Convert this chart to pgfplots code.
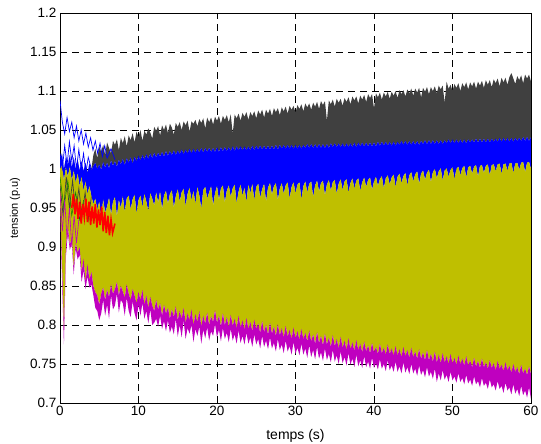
\documentclass[border=0pt]{standalone}
\usepackage{fontspec}
\setmainfont{Liberation Sans}
\usepackage{pgfplots}
\pgfplotsset{compat=1.18}
\usepackage{pgfplotstable}
\usepgfplotslibrary{fillbetween}
\definecolor{mgray}{RGB}{64,64,64}
\definecolor{mblue}{RGB}{0,0,255}
\definecolor{myel}{RGB}{191,191,0}
\definecolor{mmag}{RGB}{191,0,191}
\definecolor{mred}{RGB}{255,0,0}
\definecolor{mgreen}{RGB}{0,128,0}
\pgfplotstableread{
t gt bt yt yb mb
0.00 1.010 1.010 1.000 0.960 0.955
0.25 1.020 1.020 1.005 0.880 0.862
0.50 1.000 1.000 0.985 0.792 0.775
0.75 1.015 1.015 1.002 0.900 0.888
1.00 1.005 1.005 0.990 0.925 0.918
1.25 1.018 1.018 1.003 0.903 0.896
1.50 1.002 1.002 0.985 0.912 0.905
1.75 1.015 1.015 0.998 0.872 0.865
2.00 1.000 1.000 0.982 0.905 0.898
2.25 1.012 1.012 0.994 0.893 0.884
2.50 0.998 0.998 0.978 0.900 0.890
2.75 1.010 1.010 0.990 0.868 0.855
3.00 0.997 0.997 0.972 0.885 0.870
3.25 1.008 1.008 0.984 0.855 0.846
3.50 0.995 0.995 0.968 0.878 0.862
3.75 1.007 1.007 0.978 0.858 0.848
4.00 1.000 0.998 0.965 0.868 0.852
4.25 1.018 1.004 0.955 0.850 0.838
4.50 1.026 1.008 0.962 0.842 0.822
4.75 1.014 1.000 0.948 0.838 0.818
5.00 1.029 1.006 0.958 0.826 0.806
5.25 1.022 0.999 0.936 0.840 0.815
5.50 1.031 1.009 0.961 0.848 0.832
5.75 1.018 1.002 0.944 0.832 0.812
6.00 1.034 1.008 0.952 0.845 0.826
6.25 1.027 1.001 0.963 0.836 0.808
6.50 1.020 1.011 0.941 0.852 0.838
6.75 1.036 1.004 0.958 0.840 0.820
7.00 1.031 1.010 0.964 0.846 0.825
7.25 1.038 1.003 0.939 0.855 0.840
7.50 1.024 1.012 0.960 0.838 0.816
7.75 1.040 1.006 0.950 0.850 0.832
8.00 1.033 1.013 0.965 0.843 0.828
8.25 1.042 1.005 0.945 0.835 0.812
8.50 1.029 1.014 0.962 0.852 0.835
8.75 1.043 1.008 0.966 0.840 0.818
9.00 1.037 1.015 0.948 0.832 0.810
9.25 1.046 1.007 0.961 0.846 0.830
9.50 1.034 1.016 0.967 0.838 0.815
9.75 1.048 1.010 0.943 0.828 0.806
10.00 1.041 1.017 0.960 0.842 0.826
10.25 1.050 1.011 0.966 0.832 0.812
10.50 1.036 1.018 0.951 0.845 0.828
10.75 1.049 1.012 0.968 0.826 0.808
11.00 1.044 1.019 0.958 0.838 0.818
11.25 1.052 1.013 0.946 0.822 0.802
11.50 1.047 1.020 0.969 0.836 0.820
11.75 1.039 1.014 0.962 0.825 0.800
12.00 1.054 1.021 0.953 0.818 0.803
12.25 1.049 1.015 0.970 0.832 0.808
12.50 1.055 1.021 0.957 0.820 0.798
12.75 1.043 1.016 0.971 0.828 0.812
13.00 1.056 1.022 0.948 0.812 0.795
13.25 1.050 1.016 0.966 0.826 0.805
13.50 1.057 1.023 0.972 0.815 0.792
13.75 1.046 1.017 0.955 0.822 0.806
14.00 1.058 1.023 0.968 0.808 0.790
14.25 1.053 1.018 0.973 0.820 0.798
14.50 1.044 1.024 0.950 0.810 0.788
14.75 1.059 1.018 0.965 0.824 0.808
15.00 1.054 1.024 0.974 0.806 0.785
15.25 1.060 1.019 0.958 0.818 0.800
15.50 1.050 1.025 0.970 0.808 0.784
15.75 1.061 1.019 0.975 0.822 0.806
16.00 1.056 1.025 0.952 0.803 0.782
16.25 1.062 1.020 0.968 0.815 0.796
16.50 1.048 1.026 0.976 0.806 0.789
16.75 1.061 1.020 0.960 0.820 0.800
17.00 1.058 1.026 0.972 0.800 0.778
17.25 1.063 1.021 0.955 0.814 0.795
17.50 1.055 1.026 0.977 0.804 0.786
17.75 1.064 1.021 0.966 0.818 0.798
18.00 1.059 1.027 0.949 0.798 0.776
18.25 1.065 1.021 0.973 0.812 0.794
18.50 1.052 1.027 0.977 0.802 0.783
18.75 1.066 1.022 0.962 0.816 0.797
19.00 1.060 1.027 0.970 0.800 0.780
19.25 1.066 1.022 0.978 0.811 0.792
19.50 1.057 1.027 0.953 0.804 0.786
19.75 1.067 1.022 0.969 0.819 0.801
20.00 1.062 1.028 0.978 0.803 0.784
20.25 1.068 1.022 0.960 0.812 0.794
20.50 1.058 1.028 0.975 0.798 0.779
20.75 1.068 1.023 0.979 0.815 0.796
21.00 1.063 1.028 0.957 0.800 0.782
21.25 1.069 1.023 0.972 0.810 0.790
21.50 1.060 1.028 0.979 0.797 0.778
21.75 1.070 1.023 0.964 0.813 0.795
22.00 1.045 1.029 0.975 0.799 0.780
22.25 1.070 1.023 0.980 0.808 0.788
22.50 1.065 1.029 0.956 0.796 0.776
22.75 1.071 1.024 0.971 0.812 0.793
23.00 1.062 1.029 0.980 0.797 0.777
23.25 1.072 1.024 0.966 0.806 0.786
23.50 1.067 1.029 0.976 0.794 0.775
23.75 1.073 1.024 0.958 0.809 0.790
24.00 1.063 1.029 0.980 0.795 0.776
24.25 1.073 1.024 0.969 0.804 0.784
24.50 1.068 1.030 0.981 0.792 0.772
24.75 1.074 1.024 0.960 0.807 0.788
25.00 1.065 1.030 0.977 0.795 0.775
25.25 1.075 1.025 0.981 0.802 0.782
25.50 1.070 1.030 0.963 0.790 0.770
25.75 1.076 1.025 0.974 0.805 0.786
26.00 1.066 1.030 0.981 0.791 0.772
26.25 1.076 1.025 0.958 0.800 0.780
26.50 1.071 1.030 0.976 0.788 0.769
26.75 1.077 1.025 0.982 0.803 0.784
27.00 1.068 1.030 0.967 0.789 0.770
27.25 1.078 1.025 0.978 0.798 0.777
27.50 1.073 1.031 0.982 0.786 0.766
27.75 1.078 1.025 0.960 0.801 0.782
28.00 1.069 1.031 0.975 0.787 0.768
28.25 1.079 1.026 0.982 0.796 0.775
28.50 1.074 1.031 0.968 0.784 0.764
28.75 1.080 1.026 0.979 0.799 0.780
29.00 1.071 1.031 0.983 0.785 0.766
29.25 1.081 1.026 0.962 0.794 0.773
29.50 1.076 1.031 0.977 0.782 0.762
29.75 1.081 1.026 0.983 0.797 0.778
30.00 1.072 1.031 0.969 0.783 0.763
30.25 1.082 1.026 0.980 0.792 0.771
30.50 1.077 1.031 0.983 0.781 0.761
30.75 1.083 1.026 0.961 0.795 0.776
31.00 1.074 1.031 0.978 0.782 0.762
31.25 1.084 1.027 0.984 0.790 0.770
31.50 1.079 1.032 0.970 0.779 0.758
31.75 1.084 1.027 0.981 0.793 0.774
32.00 1.076 1.032 0.984 0.779 0.759
32.25 1.085 1.027 0.964 0.788 0.768
32.50 1.080 1.032 0.979 0.776 0.756
32.75 1.086 1.027 0.985 0.791 0.772
33.00 1.077 1.032 0.971 0.777 0.757
33.25 1.087 1.027 0.982 0.786 0.765
33.50 1.082 1.032 0.985 0.774 0.754
33.75 1.087 1.027 0.966 0.789 0.770
34.00 1.062 1.032 0.980 0.775 0.755
34.25 1.088 1.027 0.986 0.784 0.763
34.50 1.083 1.033 0.972 0.772 0.752
34.75 1.089 1.028 0.983 0.787 0.768
35.00 1.080 1.033 0.986 0.773 0.753
35.25 1.090 1.028 0.968 0.782 0.761
35.50 1.085 1.033 0.981 0.770 0.750
35.75 1.090 1.028 0.987 0.785 0.766
36.00 1.081 1.033 0.973 0.771 0.751
36.25 1.091 1.028 0.984 0.780 0.759
36.50 1.086 1.033 0.987 0.768 0.748
36.75 1.092 1.028 0.970 0.783 0.764
37.00 1.083 1.033 0.982 0.769 0.749
37.25 1.093 1.028 0.988 0.778 0.757
37.50 1.088 1.034 0.975 0.767 0.746
37.75 1.093 1.028 0.985 0.781 0.762
38.00 1.084 1.034 0.988 0.768 0.747
38.25 1.094 1.029 0.972 0.776 0.755
38.50 1.089 1.034 0.983 0.765 0.745
38.75 1.095 1.029 0.989 0.779 0.760
39.00 1.086 1.034 0.977 0.766 0.746
39.25 1.096 1.029 0.986 0.774 0.753
39.50 1.091 1.034 0.989 0.764 0.744
39.75 1.096 1.029 0.973 0.777 0.758
40.00 1.078 1.034 0.984 0.765 0.745
40.25 1.097 1.029 0.990 0.772 0.751
40.50 1.092 1.035 0.978 0.763 0.743
40.75 1.098 1.030 0.987 0.776 0.756
41.00 1.089 1.035 0.991 0.764 0.744
41.25 1.098 1.030 0.975 0.771 0.750
41.50 1.093 1.035 0.988 0.762 0.741
41.75 1.099 1.030 0.992 0.775 0.755
42.00 1.090 1.035 0.980 0.763 0.742
42.25 1.099 1.030 0.989 0.770 0.748
42.50 1.094 1.035 0.993 0.761 0.740
42.75 1.100 1.030 0.977 0.773 0.753
43.00 1.091 1.035 0.990 0.761 0.740
43.25 1.101 1.031 0.994 0.769 0.747
43.50 1.096 1.036 0.982 0.759 0.738
43.75 1.101 1.031 0.991 0.772 0.752
44.00 1.093 1.036 0.995 0.760 0.739
44.25 1.102 1.031 0.979 0.768 0.746
44.50 1.097 1.036 0.992 0.758 0.737
44.75 1.103 1.031 0.996 0.771 0.750
45.00 1.094 1.036 0.984 0.759 0.738
45.25 1.103 1.031 0.993 0.766 0.744
45.50 1.098 1.036 0.997 0.757 0.735
45.75 1.104 1.031 0.981 0.769 0.748
46.00 1.092 1.036 0.994 0.757 0.736
46.25 1.104 1.032 0.998 0.765 0.742
46.50 1.099 1.037 0.986 0.755 0.733
46.75 1.105 1.032 0.995 0.768 0.746
47.00 1.096 1.037 0.999 0.755 0.734
47.25 1.105 1.032 0.983 0.763 0.740
47.50 1.100 1.037 0.996 0.753 0.731
47.75 1.106 1.032 1.000 0.766 0.744
48.00 1.097 1.037 0.988 0.752 0.727
48.25 1.107 1.032 0.997 0.762 0.738
48.50 1.102 1.037 1.001 0.751 0.729
48.75 1.107 1.032 0.985 0.764 0.742
49.00 1.085 1.037 0.998 0.752 0.730
49.25 1.112 1.033 1.001 0.760 0.736
49.50 1.103 1.038 0.990 0.750 0.727
49.75 1.108 1.033 0.999 0.763 0.740
50.00 1.100 1.038 1.002 0.751 0.729
50.25 1.109 1.033 0.987 0.758 0.734
50.50 1.104 1.038 1.000 0.749 0.726
50.75 1.110 1.033 1.003 0.761 0.738
51.00 1.100 1.038 0.992 0.750 0.727
51.25 1.110 1.033 1.001 0.757 0.732
51.50 1.105 1.038 1.004 0.748 0.724
51.75 1.111 1.033 0.989 0.760 0.736
52.00 1.102 1.038 1.002 0.748 0.725
52.25 1.111 1.034 1.004 0.755 0.730
52.50 1.106 1.038 0.994 0.746 0.722
52.75 1.112 1.034 1.003 0.758 0.734
53.00 1.103 1.039 1.005 0.747 0.724
53.25 1.112 1.034 0.990 0.754 0.728
53.50 1.107 1.039 1.004 0.745 0.720
53.75 1.113 1.034 1.005 0.757 0.732
54.00 1.104 1.039 0.995 0.746 0.722
54.25 1.114 1.034 1.004 0.752 0.726
54.50 1.108 1.039 1.006 0.744 0.718
54.75 1.114 1.034 0.992 0.755 0.730
55.00 1.105 1.039 1.005 0.745 0.720
55.25 1.115 1.035 1.006 0.751 0.724
55.50 1.110 1.039 0.997 0.742 0.716
55.75 1.116 1.035 1.006 0.754 0.728
56.00 1.106 1.040 1.007 0.744 0.718
56.25 1.117 1.035 0.994 0.749 0.722
56.50 1.111 1.040 1.006 0.741 0.713
56.75 1.117 1.035 1.007 0.752 0.726
57.00 1.108 1.040 0.998 0.742 0.716
57.25 1.118 1.035 1.007 0.748 0.720
57.50 1.123 1.040 1.008 0.739 0.711
57.75 1.116 1.035 0.995 0.750 0.724
58.00 1.109 1.040 1.007 0.740 0.712
58.25 1.119 1.036 1.008 0.746 0.718
58.50 1.114 1.040 0.999 0.737 0.709
58.75 1.120 1.036 1.008 0.749 0.722
59.00 1.110 1.041 1.009 0.738 0.710
59.25 1.121 1.036 0.996 0.744 0.716
59.50 1.116 1.041 1.008 0.736 0.707
59.75 1.121 1.036 1.009 0.747 0.720
60.00 1.112 1.041 1.000 0.737 0.705
}\vdata
\begin{document}
\begin{tikzpicture}
\begin{axis}[
  at={(0,0)}, anchor=south west,
  scale only axis, width=471pt, height=390pt,
  xmin=0, xmax=60, ymin=0.7, ymax=1.2,
  xtick={0,10,20,30,40,50,60},
  ytick={0.7,0.75,0.8,0.85,0.9,0.95,1,1.05,1.1,1.15,1.2},
  grid=major,
  major grid style={black, dash pattern=on 7pt off 5pt, line width=0.5pt},
  axis line style={black, line width=0.8pt},
  tick align=inside, major tick length=4pt, tick style={black},
  ticklabel style={font=\fontsize{13.5}{16}\selectfont},
  /pgf/number format/assume math mode=true,
  /pgf/number format/fixed,
  xlabel={temps (s)},
  ylabel={tension (p.u)},
  xlabel style={font=\fontsize{14}{16}\selectfont, at={(axis description cs:0.5,-0.068)}, anchor=north, inner sep=0pt},
  ylabel style={font=\fontsize{11}{13}\selectfont, at={(axis description cs:-0.0955,0.5)}, anchor=center, inner sep=0pt},
]
\addplot[draw=none, name path=GT, forget plot] table[x=t,y=gt]{\vdata};
\addplot[draw=none, name path=BT, forget plot] table[x=t,y=bt]{\vdata};
\addplot[draw=none, name path=YT, forget plot] table[x=t,y=yt]{\vdata};
\addplot[draw=none, name path=YB, forget plot] table[x=t,y=yb]{\vdata};
\addplot[draw=none, name path=MB, forget plot] table[x=t,y=mb]{\vdata};
\addplot[fill=mgray, draw=none] fill between[of=GT and BT];
\addplot[fill=mblue, draw=none] fill between[of=BT and YT];
\addplot[fill=myel, draw=none] fill between[of=YT and YB];
\addplot[fill=mmag, draw=none] fill between[of=YB and MB];
% early transients
\addplot[mgray, line width=0.7pt] coordinates {(0,0.98)(0.4,0.94)(0.8,0.99)(1.2,0.95)(1.6,0.985)(2.0,0.945)(2.4,0.975)(2.8,0.94)(3.2,0.97)(3.6,0.935)(4,0.965)};
\addplot[mgreen, line width=0.5pt] coordinates {(0,0.99)(0.5,0.95)(1,0.985)(1.5,0.94)(2,0.97)(2.5,0.935)(3,0.96)};
\addplot[mred, line width=1.6pt] coordinates {(1.5,0.95)(1.7,0.968)(1.9,0.942)(2.1,0.962)(2.3,0.936)(2.5,0.958)(2.7,0.93)(2.9,0.955)(3.1,0.938)(3.3,0.962)(3.5,0.932)(3.7,0.958)(3.9,0.928)(4.1,0.952)(4.3,0.93)(4.5,0.955)(4.7,0.925)(4.9,0.948)(5.1,0.928)(5.3,0.952)(5.5,0.92)(5.7,0.945)(5.9,0.918)(6.1,0.94)(6.3,0.915)(6.5,0.935)(6.7,0.918)(7.0,0.93)};
\addplot[mmag, line width=0.6pt] coordinates {(0,0.97)(0.3,0.92)(0.6,0.96)(0.9,0.91)(1.2,0.95)(1.5,0.9)(1.8,0.94)(2.1,0.905)(2.4,0.935)};
\addplot[mblue, line width=0.7pt] coordinates {(0,1.02)(0.3,1.00)(0.6,1.03)(0.9,1.005)(1.2,1.035)(1.5,1.01)(1.8,1.03)(2.1,1.0)(2.4,1.025)(2.7,1.0)(3.0,1.02)(3.3,0.995)(3.6,1.015)(4,1.0)};
\addplot[mblue, line width=0.7pt] coordinates {(0,1.088)(0.3,1.060)(0.6,1.045)(0.9,1.066)(1.2,1.048)(1.5,1.060)(1.8,1.040)(2.1,1.055)(2.4,1.036)(2.7,1.050)(3.0,1.032)(3.3,1.046)(3.6,1.028)(3.9,1.040)(4.2,1.024)(4.5,1.036)(4.8,1.020)(5.1,1.033)(5.4,1.016)(5.7,1.030)(6.0,1.014)(6.5,1.026)(7.0,1.012)};
\end{axis}
\pgfresetboundingbox
\path[use as bounding box] (-60pt,-41pt) rectangle (481pt,403pt);
\end{tikzpicture}
\end{document}
